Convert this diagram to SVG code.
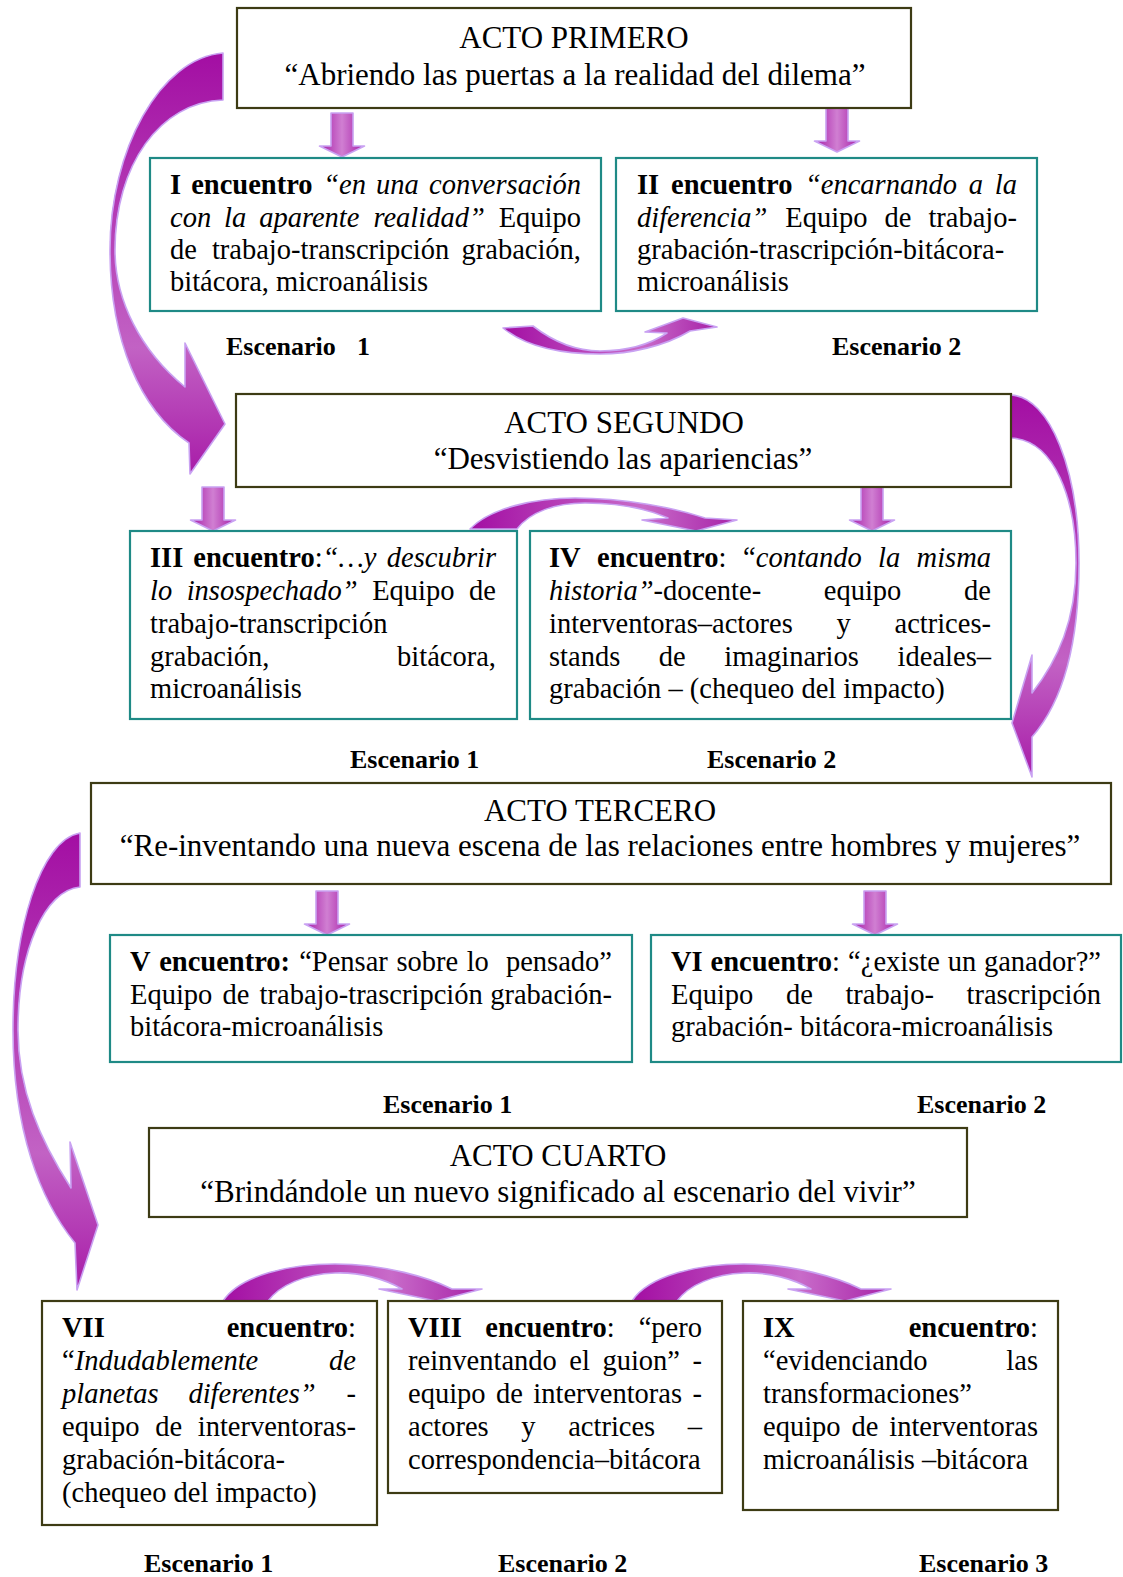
<svg xmlns="http://www.w3.org/2000/svg" width="1123" height="1577" viewBox="0 0 1123 1577">
<defs>
<style>
text{font-family:"Liberation Serif","Times New Roman",serif;fill:#000}
.t{font-size:31px}
.b{font-size:28.5px}
.bd{font-weight:bold}
.i{font-style:italic}
.e{font-size:26px;font-weight:bold}
.acto{fill:#fff;stroke:#3d3b14;stroke-width:2.2}
.enc{fill:#fff;stroke:#1f8a86;stroke-width:2.2}
.arw{stroke:#c9a2f2;stroke-width:1.6;stroke-linejoin:round}
</style>
<linearGradient id="gV" x1="0" y1="0" x2="0" y2="1">
<stop offset="0" stop-color="#a30ea3"/>
<stop offset="0.7" stop-color="#c262c4"/>
<stop offset="1" stop-color="#a81ca8"/>
</linearGradient>
<linearGradient id="gH" x1="0" y1="0" x2="1" y2="0">
<stop offset="0" stop-color="#a30ea3"/>
<stop offset="0.65" stop-color="#c86bc9"/>
<stop offset="1" stop-color="#a722a7"/>
</linearGradient>
<linearGradient id="gB" x1="0" y1="0" x2="1" y2="0">
<stop offset="0" stop-color="#a61ba6"/>
<stop offset="0.5" stop-color="#d07fd2"/>
<stop offset="1" stop-color="#a61ba6"/>
</linearGradient>
<path id="down" d="M-11,0 H11 V33 H22.5 L0,44 L-22.5,33 H-11 Z"/>
</defs>
<rect width="1123" height="1577" fill="#fff"/>

<g id="connectors">
<!-- block down arrows -->
<use href="#down" x="342" y="113" fill="url(#gB)" class="arw"/>
<use href="#down" x="837" y="108" fill="url(#gB)" class="arw"/>
<use href="#down" x="213" y="487" fill="url(#gB)" class="arw"/>
<use href="#down" x="872" y="487" fill="url(#gB)" class="arw"/>
<use href="#down" x="327" y="891" fill="url(#gB)" class="arw"/>
<use href="#down" x="875" y="891" fill="url(#gB)" class="arw"/>
<!-- big curved arrows -->
<path class="arw" fill="url(#gV)" d="M223,53 C160,58 110,150 110,250 C110,340 140,410 189,443 L190,474 L225,424 L185,343 L185,387 C140,350 115,300 115,250 C115,165 160,102 223,100 Z"/>
<path class="arw" fill="url(#gV)" d="M1011,395 C1050,397 1079,470 1079,563 C1079,650 1060,705 1032,737 L1032,777 L1012,723 L1032,655 L1032,693 C1058,660 1076,620 1076,563 C1076,500 1055,440 1011,438 Z"/>
<path class="arw" fill="url(#gV)" d="M80,833 C40,840 13,930 13,1030 C13,1130 40,1200 75,1243 L77,1290 L98,1225 L70,1142 L71,1188 C40,1140 18,1090 18,1030 C18,950 45,890 80,887 Z"/>
<!-- small curved arrows -->
<path class="arw" fill="url(#gH)" d="M503,328 L533,326 C555,343 578,351 600,351 C630,351 652,343 667,333 L645,332 L683,318 L717,327 L690,331 C665,346 630,354 600,354 C560,354 525,346 503,328 Z"/>
<path class="arw" fill="url(#gH)" d="M470,529 C490,508 535,498 575,498 C625,498 675,508 705,518 L737,520 L696,531 L642,520 L668,518 C645,508 615,503 585,503 C555,503 530,512 517,529 Z"/>
<path class="arw" fill="url(#gH)" d="M223,1301 C240,1275 290,1264 335,1264 C385,1264 430,1278 452,1289 L482,1289 L436,1301 L379,1289 L402,1289 C385,1279 360,1272 335,1273 C305,1274 280,1285 268,1301 Z"/>
<path class="arw" fill="url(#gH)" d="M632,1301 C649,1275 699,1264 744,1264 C794,1264 839,1278 861,1289 L891,1289 L845,1301 L788,1289 L811,1289 C794,1279 769,1272 744,1273 C714,1274 689,1285 677,1301 Z"/>
</g>

<g id="acto1">
<rect class="acto" x="237" y="8" width="674" height="100"/>
<text class="t" x="574" y="47.5" text-anchor="middle">ACTO PRIMERO</text>
<text class="t" x="575" y="84.5" text-anchor="middle">“Abriendo las puertas a la realidad del dilema”</text>
</g>

<g id="enc1">
<rect class="enc" x="150" y="158" width="451" height="153"/>
<text class="b" y="194"><tspan x="170" class="bd">I</tspan><tspan x="191.2" class="bd">encuentro</tspan><tspan x="323.2" class="i">“en</tspan><tspan x="376" class="i">una</tspan></text>
<text class="b i" x="581" y="194" text-anchor="end">conversación</text>
<text class="b" y="227"><tspan x="170" class="i">con</tspan><tspan x="224.1" class="i">la</tspan><tspan x="259.2" class="i">aparente</tspan><tspan x="373.4" class="i">realidad”</tspan></text>
<text class="b" x="581" y="227" text-anchor="end">Equipo</text>
<text class="b" y="259"><tspan x="170">de</tspan><tspan x="211.9">trabajo-transcripción</tspan></text>
<text class="b" x="581" y="259" text-anchor="end">grabación,</text>
<text class="b" x="170" y="291">bitácora, microanálisis</text>
</g>

<g id="enc2">
<rect class="enc" x="616" y="158" width="421" height="153"/>
<text class="b" y="194"><tspan x="637" class="bd">II</tspan><tspan x="671.1" class="bd">encuentro</tspan><tspan x="804.9" class="i">“encarnando</tspan><tspan x="968.7" class="i">a</tspan></text>
<text class="b i" x="1017" y="194" text-anchor="end">la</text>
<text class="b" y="227"><tspan x="637" class="i">diferencia”</tspan><tspan x="785.3">Equipo</tspan><tspan x="884.5">de</tspan></text>
<text class="b" x="1017" y="227" text-anchor="end">trabajo-</text>
<text class="b" x="637" y="259">grabación-trascripción-bitácora-</text>
<text class="b" x="637" y="291">microanálisis</text>
</g>

<g id="escenarios1">
<text class="e" x="226" y="355">Escenario</text>
<text class="e" x="357" y="355">1</text>
<text class="e" x="832" y="355">Escenario 2</text>
</g>

<g id="acto2">
<rect class="acto" x="236" y="394" width="775" height="93"/>
<text class="t" x="624" y="432.5" text-anchor="middle">ACTO SEGUNDO</text>
<text class="t" x="623" y="468.5" text-anchor="middle">“Desvistiendo las apariencias”</text>
</g>

<g id="enc3">
<rect class="enc" x="130" y="531" width="387" height="188"/>
<text class="b" y="567"><tspan x="150" class="bd">III</tspan><tspan x="193.3" class="bd">encuentro</tspan>:<tspan class="i">“…y</tspan></text>
<text class="b i" x="496" y="567" text-anchor="end">descubrir</text>
<text class="b" y="600"><tspan x="150" class="i">lo</tspan><tspan x="186.7" class="i">insospechado”</tspan><tspan x="372.2">Equipo</tspan></text>
<text class="b" x="496" y="600" text-anchor="end">de</text>
<text class="b" x="150" y="633">trabajo-transcripción</text>
<text class="b" x="150" y="666">grabación,</text>
<text class="b" x="496" y="666" text-anchor="end">bitácora,</text>
<text class="b" x="150" y="698">microanálisis</text>
</g>

<g id="enc4">
<rect class="enc" x="530" y="531" width="481" height="188"/>
<text class="b" y="567"><tspan x="549" class="bd">IV</tspan><tspan x="597" class="bd">encuentro</tspan>:<tspan x="743.1">“</tspan><tspan class="i">contando</tspan><tspan x="878.1" class="i">la</tspan></text>
<text class="b i" x="991" y="567" text-anchor="end">misma</text>
<text class="b" y="600"><tspan x="549" class="i">historia”</tspan>-docente-<tspan x="823.8">equipo</tspan></text>
<text class="b" x="991" y="600" text-anchor="end">de</text>
<text class="b" y="633"><tspan x="549">interventoras–actores</tspan><tspan x="836.4">y</tspan></text>
<text class="b" x="991" y="633" text-anchor="end">actrices-</text>
<text class="b" y="666"><tspan x="549">stands</tspan><tspan x="658.7">de</tspan><tspan x="724.3">imaginarios</tspan></text>
<text class="b" x="991" y="666" text-anchor="end">ideales–</text>
<text class="b" x="549" y="698">grabación – (chequeo del impacto)</text>
</g>

<g id="escenarios2">
<text class="e" x="350" y="768">Escenario 1</text>
<text class="e" x="707" y="768">Escenario 2</text>
</g>

<g id="acto3">
<rect class="acto" x="91" y="783" width="1020" height="101"/>
<text class="t" x="600" y="821" text-anchor="middle">ACTO TERCERO</text>
<text class="t" x="600" y="856" text-anchor="middle">“Re-inventando una nueva escena de las relaciones entre hombres y mujeres”</text>
</g>

<g id="enc5">
<rect class="enc" x="110" y="935" width="522" height="127"/>
<text class="b" y="971"><tspan x="130" class="bd">V</tspan><tspan x="159.2" class="bd">encuentro:</tspan><tspan x="299.2">“Pensar</tspan><tspan x="396.4">sobre</tspan><tspan x="466.7">lo</tspan></text>
<text class="b" x="612" y="971" text-anchor="end">pensado”</text>
<text class="b" y="1004"><tspan x="130">Equipo</tspan><tspan x="222.5">de</tspan><tspan x="259.6">trabajo-trascripción</tspan></text>
<text class="b" x="612" y="1004" text-anchor="end">grabación-</text>
<text class="b" x="130" y="1036">bitácora-microanálisis</text>
</g>

<g id="enc6">
<rect class="enc" x="651" y="935" width="470" height="127"/>
<text class="b" y="971"><tspan x="671" class="bd">VI</tspan><tspan x="710.5" class="bd">encuentro</tspan>:<tspan x="848.1">“¿existe</tspan><tspan x="947.7">un</tspan></text>
<text class="b" x="1101" y="971" text-anchor="end">ganador?”</text>
<text class="b" y="1004"><tspan x="671">Equipo</tspan><tspan x="785.9">de</tspan><tspan x="845.4">trabajo-</tspan></text>
<text class="b" x="1101" y="1004" text-anchor="end">trascripción</text>
<text class="b" x="671" y="1036">grabación- bitácora-microanálisis</text>
</g>

<g id="escenarios3">
<text class="e" x="383" y="1113">Escenario 1</text>
<text class="e" x="917" y="1113">Escenario 2</text>
</g>

<g id="acto4">
<rect class="acto" x="149" y="1128" width="818" height="89"/>
<text class="t" x="558" y="1166" text-anchor="middle">ACTO CUARTO</text>
<text class="t" x="558" y="1202" text-anchor="middle">“Brindándole un nuevo significado al escenario del vivir”</text>
</g>

<g id="enc7">
<rect class="acto" x="42" y="1301" width="335" height="224"/>
<text class="b bd" x="62" y="1337">VII</text>
<text class="b" x="356" y="1337" text-anchor="end"><tspan class="bd">encuentro</tspan>:</text>
<text class="b" x="62" y="1370">“<tspan class="i">Indudablemente</tspan></text>
<text class="b i" x="356" y="1370" text-anchor="end">de</text>
<text class="b" y="1403"><tspan x="62" class="i">planetas</tspan><tspan x="188.4" class="i">diferentes”</tspan></text>
<text class="b" x="356" y="1403" text-anchor="end">-</text>
<text class="b" y="1436"><tspan x="62">equipo</tspan><tspan x="155.2">de</tspan></text>
<text class="b" x="356" y="1436" text-anchor="end">interventoras-</text>
<text class="b" x="62" y="1469">grabación-bitácora-</text>
<text class="b" x="62" y="1502">(chequeo del impacto)</text>
</g>

<g id="enc8">
<rect class="acto" x="388" y="1301" width="334" height="192"/>
<text class="b" y="1337"><tspan x="408" class="bd">VIII</tspan><tspan x="485.3" class="bd">encuentro</tspan>:</text>
<text class="b" x="702" y="1337" text-anchor="end">“pero</text>
<text class="b" y="1370"><tspan x="408">reinventando</tspan><tspan x="569.3">el</tspan><tspan x="602.4">guion”</tspan></text>
<text class="b" x="702" y="1370" text-anchor="end">-</text>
<text class="b" y="1403"><tspan x="408">equipo</tspan><tspan x="496">de</tspan><tspan x="533.3">interventoras</tspan></text>
<text class="b" x="702" y="1403" text-anchor="end">-</text>
<text class="b" y="1436"><tspan x="408">actores</tspan><tspan x="521.3">y</tspan><tspan x="568.2">actrices</tspan></text>
<text class="b" x="702" y="1436" text-anchor="end">–</text>
<text class="b" x="408" y="1469">correspondencia–bitácora</text>
</g>

<g id="enc9">
<rect class="acto" x="743" y="1301" width="315" height="209"/>
<text class="b bd" x="763" y="1337">IX</text>
<text class="b" x="1038" y="1337" text-anchor="end"><tspan class="bd">encuentro</tspan>:</text>
<text class="b" x="763" y="1370">“evidenciando</text>
<text class="b" x="1038" y="1370" text-anchor="end">las</text>
<text class="b" x="763" y="1403">transformaciones”</text>
<text class="b" y="1436"><tspan x="763">equipo</tspan><tspan x="851.5">de</tspan></text>
<text class="b" x="1038" y="1436" text-anchor="end">interventoras</text>
<text class="b" x="763" y="1469">microanálisis –bitácora</text>
</g>

<g id="escenarios4">
<text class="e" x="144" y="1572">Escenario 1</text>
<text class="e" x="498" y="1572">Escenario 2</text>
<text class="e" x="919" y="1572">Escenario 3</text>
</g>
</svg>
